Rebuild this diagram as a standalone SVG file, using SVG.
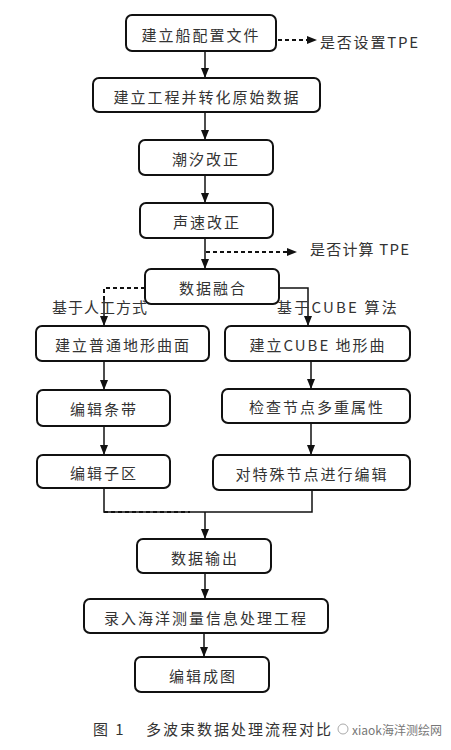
<svg xmlns="http://www.w3.org/2000/svg" width="451" height="750" viewBox="0 0 451 750">
<defs>
<style>
.box{fill:#fff;stroke:#111;stroke-width:2}
.t{font-family:"Noto Sans CJK SC","Noto Sans",sans-serif;font-size:15px;fill:#333;text-anchor:middle;dominant-baseline:central;letter-spacing:2px}
.l{font-family:"Noto Sans CJK SC","Liberation Serif",serif;font-size:15px;fill:#333;dominant-baseline:central;letter-spacing:1px}
.c{fill:none;stroke:#111;stroke-width:1.5}
.d{fill:none;stroke:#111;stroke-width:2;stroke-dasharray:4 3}
</style>
<marker id="ah" markerWidth="10" markerHeight="10" refX="9" refY="5" orient="auto" markerUnits="userSpaceOnUse">
<path d="M0,1 L10,5 L0,9 Z" fill="#111"/>
</marker>
</defs>
<rect width="451" height="750" fill="#fff"/>
<g id="connectors">
<line class="c" x1="205" y1="51" x2="205" y2="77" marker-end="url(#ah)"/>
<line class="d" x1="278" y1="40" x2="308" y2="40"/>
<path d="M307,36 L317,40 L307,44 Z" fill="#111"/>
<line class="c" x1="205" y1="112" x2="205" y2="139" marker-end="url(#ah)"/>
<line class="c" x1="205" y1="175" x2="205" y2="202" marker-end="url(#ah)"/>
<line class="c" x1="205" y1="238" x2="205" y2="268" marker-end="url(#ah)"/>
<line class="d" x1="206" y1="252" x2="288" y2="252"/>
<path d="M287,248 L297,252 L287,256 Z" fill="#111"/>
<polyline class="d" points="145,288 104,288 104,300"/>
<line class="c" x1="104" y1="298" x2="104" y2="325" marker-end="url(#ah)"/>
<polyline class="c" points="279,288 308,288 308,325" marker-end="url(#ah)"/>
<line class="c" x1="104" y1="361" x2="104" y2="389" marker-end="url(#ah)"/>
<line class="c" x1="311" y1="361" x2="311" y2="388" marker-end="url(#ah)"/>
<line class="c" x1="104" y1="426" x2="104" y2="454" marker-end="url(#ah)"/>
<line class="c" x1="311" y1="423" x2="311" y2="454" marker-end="url(#ah)"/>
<polyline class="c" points="104,488 104,512 312,512 312,490"/>
<line class="d" x1="104" y1="512" x2="190" y2="512"/>
<line class="c" x1="205" y1="512" x2="205" y2="538" marker-end="url(#ah)"/>
<line class="c" x1="205" y1="573" x2="205" y2="598" marker-end="url(#ah)"/>
<line class="c" x1="204" y1="633" x2="204" y2="656" marker-end="url(#ah)"/>
</g>
<g id="n1"><rect class="box" x="126" y="15" width="150" height="36" rx="6"/><text class="t" x="201" y="34">建立船配置文件</text></g>
<g id="lbl1"><text class="l" x="320" y="41" style="letter-spacing:1.8px">是否设置TPE</text></g>
<g id="n2"><rect class="box" x="93" y="78" width="227" height="34" rx="6"/><text class="t" x="207" y="96">建立工程并转化原始数据</text></g>
<g id="n3"><rect class="box" x="139" y="140" width="134" height="35" rx="6"/><text class="t" x="206" y="158">潮汐改正</text></g>
<g id="n4"><rect class="box" x="140" y="203" width="133" height="35" rx="6"/><text class="t" x="207" y="221">声速改正</text></g>
<g id="lbl2"><text class="l" x="310" y="248" style="letter-spacing:1.2px">是否计算 TPE</text></g>
<g id="n5"><rect class="box" x="145" y="269" width="134" height="35" rx="6"/><text class="t" x="213" y="287">数据融合</text></g>
<g id="lbl3"><text class="l" x="52" y="306">基于人工方式</text></g>
<g id="lbl4"><text class="l" x="277" y="306" style="letter-spacing:2.2px">基于CUBE 算法</text></g>
<g id="n6"><rect class="box" x="36" y="326" width="173" height="35" rx="6"/><text class="t" x="123" y="344">建立普通地形曲面</text></g>
<g id="n7"><rect class="box" x="225" y="326" width="185" height="35" rx="6"/><text class="t" x="318" y="344">建立CUBE 地形曲</text></g>
<g id="n8"><rect class="box" x="37" y="390" width="133" height="36" rx="6"/><text class="t" x="104" y="408">编辑条带</text></g>
<g id="n9"><rect class="box" x="222" y="389" width="188" height="34" rx="6"/><text class="t" x="317" y="406">检查节点多重属性</text></g>
<g id="n10"><rect class="box" x="37" y="455" width="133" height="33" rx="6"/><text class="t" x="104" y="472">编辑子区</text></g>
<g id="n11"><rect class="box" x="213" y="455" width="197" height="35" rx="6"/><text class="t" x="312" y="473">对特殊节点进行编辑</text></g>
<g id="n12"><rect class="box" x="137" y="539" width="134" height="34" rx="6"/><text class="t" x="205" y="557">数据输出</text></g>
<g id="n13"><rect class="box" x="84" y="599" width="244" height="34" rx="6"/><text class="t" x="206" y="617">录入海洋测量信息处理工程</text></g>
<g id="n14"><rect class="box" x="135" y="657" width="134" height="35" rx="6"/><text class="t" x="203" y="675">编辑成图</text></g>
<g id="caption">
<text class="l" x="93" y="728" style="letter-spacing:2px">图 1</text>
<text class="l" x="146" y="728" style="letter-spacing:2px">多波束数据处理流程对比</text>
<circle cx="343" cy="729" r="5" fill="none" stroke="#aaa" stroke-width="1"/>
<text x="352" y="729" style="font-family:'Noto Sans CJK SC',sans-serif;font-size:12px;fill:#777;dominant-baseline:central">xiaok海洋测绘网</text>
</g>
</svg>
